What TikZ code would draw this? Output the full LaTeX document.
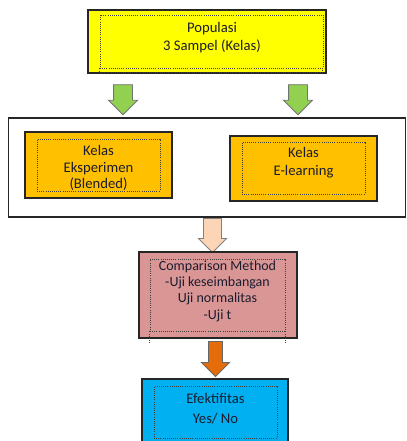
\documentclass[tikz,border=0pt]{standalone}
\usepackage{fontspec}
\setmainfont{Carlito}
\usetikzlibrary{shapes.arrows}
\definecolor{popyellow}{HTML}{FFFF00}
\definecolor{kelasorange}{HTML}{FFC000}
\definecolor{methodpink}{HTML}{D99694}
\definecolor{hasilblue}{HTML}{00B0F0}
\definecolor{arrowgreen}{HTML}{92D050}
\definecolor{arrowpeach}{HTML}{FBD5B5}
\definecolor{arroworange}{HTML}{E46C0A}
\definecolor{txt}{HTML}{1C1C30}
\tikzset{
  box/.style={draw=black!85, line width=0.9pt, inner sep=0pt},
  textframe/.style={draw=black!75, densely dotted, line width=0.6pt, inner sep=0pt},
  teks/.style={align=center, text=txt, inner sep=0pt, font=\fontsize{11}{13.5}\selectfont},
  blockarrow/.style={single arrow, shape border rotate=270, line width=0.7pt, single arrow head indent=0pt}
}
\begin{document}
\begin{tikzpicture}[x=0.75pt, y=-0.75pt]
\useasboundingbox (0,0) rectangle (406,441);
% populasi
\node[box, fill=popyellow, minimum width=178.5pt, minimum height=47.25pt] (populasi) at (207,41.5) {};
\node[textframe, minimum width=167.25pt, minimum height=39.75pt] (populasiframe) at (211.5,41.5) {};
\draw[textframe] (populasiframe.south west) -- ++(0,4) -- ++(223,0) -- ++(0,-4);
\node[teks] (populasiteks) at (212,38) {Populasi\\3 Sampel (Kelas)};
% panah ke kelas
\node[blockarrow, fill=arrowgreen, draw=black!55, inner sep=6.75pt, minimum height=22.5pt, single arrow head extend=3.75pt] (panahA) at (123,95) {};
\node[blockarrow, fill=arrowgreen, draw=black!55, inner sep=6.75pt, minimum height=22.5pt, single arrow head extend=3.75pt] (panahB) at (298,95) {};
% kelas
\node[box, fill=white, minimum width=297.75pt, minimum height=74.25pt] (kelas) at (207,167.5) {};
\node[box, fill=kelasorange, minimum width=110.25pt, minimum height=49.5pt] (eksperimen) at (98.5,165) {};
\node[textframe, minimum width=92.25pt, minimum height=39pt] (eksperimenframe) at (98.5,165) {};
\node[teks, font=\fontsize{11}{12.5}\selectfont] (eksperimenteks) at (98.5,168) {Kelas\\Eksperimen\\(Blended)};
\node[box, fill=kelasorange, minimum width=110.25pt, minimum height=48.75pt] (elearning) at (303.5,168.5) {};
\node[textframe, minimum width=92.25pt, minimum height=39pt] (elearningframe) at (303.5,168) {};
\node[teks] (elearningteks) at (303.5,163) {Kelas\\E-learning};
% panah ke metode
\node[blockarrow, fill=arrowpeach, draw=black!50, inner sep=6.4pt, minimum height=25.5pt, single arrow head extend=3.75pt] (panahC) at (212.5,231) {};
% metode
\node[box, fill=methodpink, minimum width=118.5pt, minimum height=64.5pt] (metode) at (218,295) {};
\node[textframe, minimum width=101.25pt, minimum height=54pt] (metodeframe) at (217.5,295) {};
\draw[textframe] (metodeframe.south west) -- ++(0,11);
\draw[textframe] (metodeframe.south east) -- ++(0,11);
\node[teks, font=\fontsize{10.5}{12.2}\selectfont] (metodeteks) at (217.5,291) {Comparison Method\\-Uji keseimbangan\\Uji normalitas\\-Uji t};
% panah ke hasil
\node[blockarrow, fill=arroworange, draw=black!60, inner sep=4.9pt, minimum height=26.25pt, single arrow head extend=5.25pt] (panahD) at (215.5,355.5) {};
% hasil
\node[box, fill=hasilblue, minimum width=109.5pt, minimum height=52.5pt] (hasil) at (215,414) {};
\node[textframe, minimum width=92.25pt, minimum height=39pt] (hasilframe) at (215.5,412) {};
\node[teks, font=\fontsize{11}{15}\selectfont] (hasilteks) at (215.5,409) {Efektifitas\\Yes/ No};
\end{tikzpicture}
\end{document}
